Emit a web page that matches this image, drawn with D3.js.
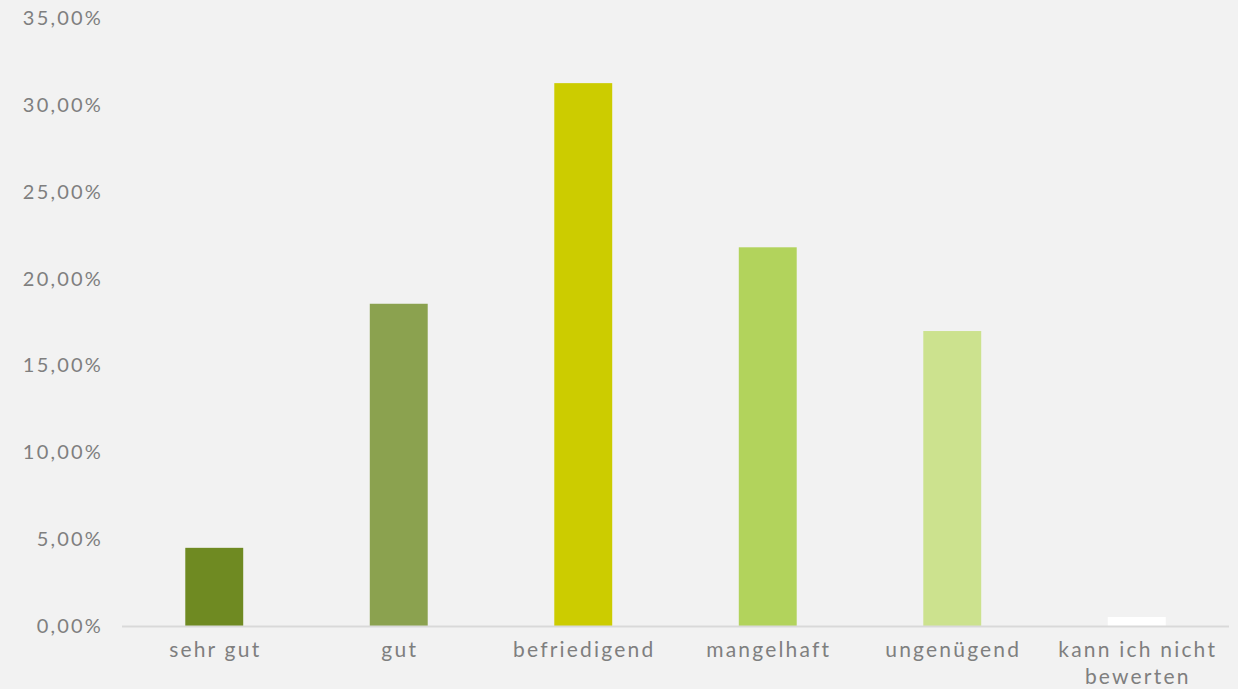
<!DOCTYPE html>
<html>
<head>
<meta charset="utf-8">
<script src="https://cdn.jsdelivr.net/npm/d3@7"></script>
<style>
  html, body { margin: 0; padding: 0; background: #f2f2f2; }
  svg { display: block; }
</style>
</head>
<body>
<svg id="chart"></svg>
<script>
const categories = ['sehr gut', 'gut', 'befriedigend', 'mangelhaft', 'ungenügend', 'kann ich nicht bewerten']
const values = [4.5, 18.55, 31.25, 21.8, 16.98, 0.52]
const barColors = ['#6f8a22', '#8ba24f', '#cccc00', '#b2d35c', '#cce28e', '#ffffff']
const yTicks = [0, 5, 10, 15, 20, 25, 30, 35]

const width = 1238
const height = 689
const margin = { top: 18, right: 9, bottom: 63, left: 122 }

const svg = d3.select('#chart').attr('width', width).attr('height', height)

svg.append('rect').attr('width', width).attr('height', height).attr('fill', '#f2f2f2')

const x = d3.scaleBand()
  .domain(categories)
  .range([margin.left, width - margin.right])
  .paddingInner(0.686)
  .paddingOuter(0.343)

const y = d3.scaleLinear()
  .domain([0, 35])
  .range([height - margin.bottom, margin.top])

// y labels
svg.append('g')
  .selectAll('text')
  .data(yTicks)
  .enter().append('text')
  .attr('x', 103)
  .attr('y', d => y(d))
  .attr('dy', '0.35em')
  .attr('text-anchor', 'end')
  .attr('fill', '#7f7f7f')
  .style('font-family', 'Lato, sans-serif')
  .style('font-size', '20px')
  .style('letter-spacing', '2.2px')
  .text(d => d3.format('.2f')(d).replace('.', ',') + '%')

// bars
svg.append('g')
  .selectAll('rect')
  .data(categories)
  .enter().append('rect')
  .attr('x', d => x(d))
  .attr('width', x.bandwidth())
  .attr('y', (d, i) => y(values[i]))
  .attr('height', (d, i) => y(0) - y(values[i]))
  .attr('fill', (d, i) => barColors[i])

// baseline
svg.append('line')
  .attr('x1', margin.left)
  .attr('x2', width - margin.right)
  .attr('y1', y(0) + 0.5)
  .attr('y2', y(0) + 0.5)
  .attr('stroke', '#d9d9d9')
  .attr('stroke-width', 2)

// x labels
const lines = d => d === 'kann ich nicht bewerten' ? ['kann ich nicht', 'bewerten'] : [d]
const xl = svg.append('g')
  .selectAll('text')
  .data(categories)
  .enter().append('text')
  .attr('x', d => x(d) + x.bandwidth() / 2 + 1)
  .attr('y', 657)
  .attr('text-anchor', 'middle')
  .attr('fill', '#7f7f7f')
  .style('font-family', 'Lato, sans-serif')
  .style('font-size', '21px')
  .style('letter-spacing', '2.2px')
xl.selectAll('tspan')
  .data(d => lines(d))
  .enter().append('tspan')
  .attr('x', function () { return d3.select(this.parentNode).attr('x') })
  .attr('dy', (d, i) => i === 0 ? 0 : 27)
  .text(d => d)
</script>
</body>
</html>
